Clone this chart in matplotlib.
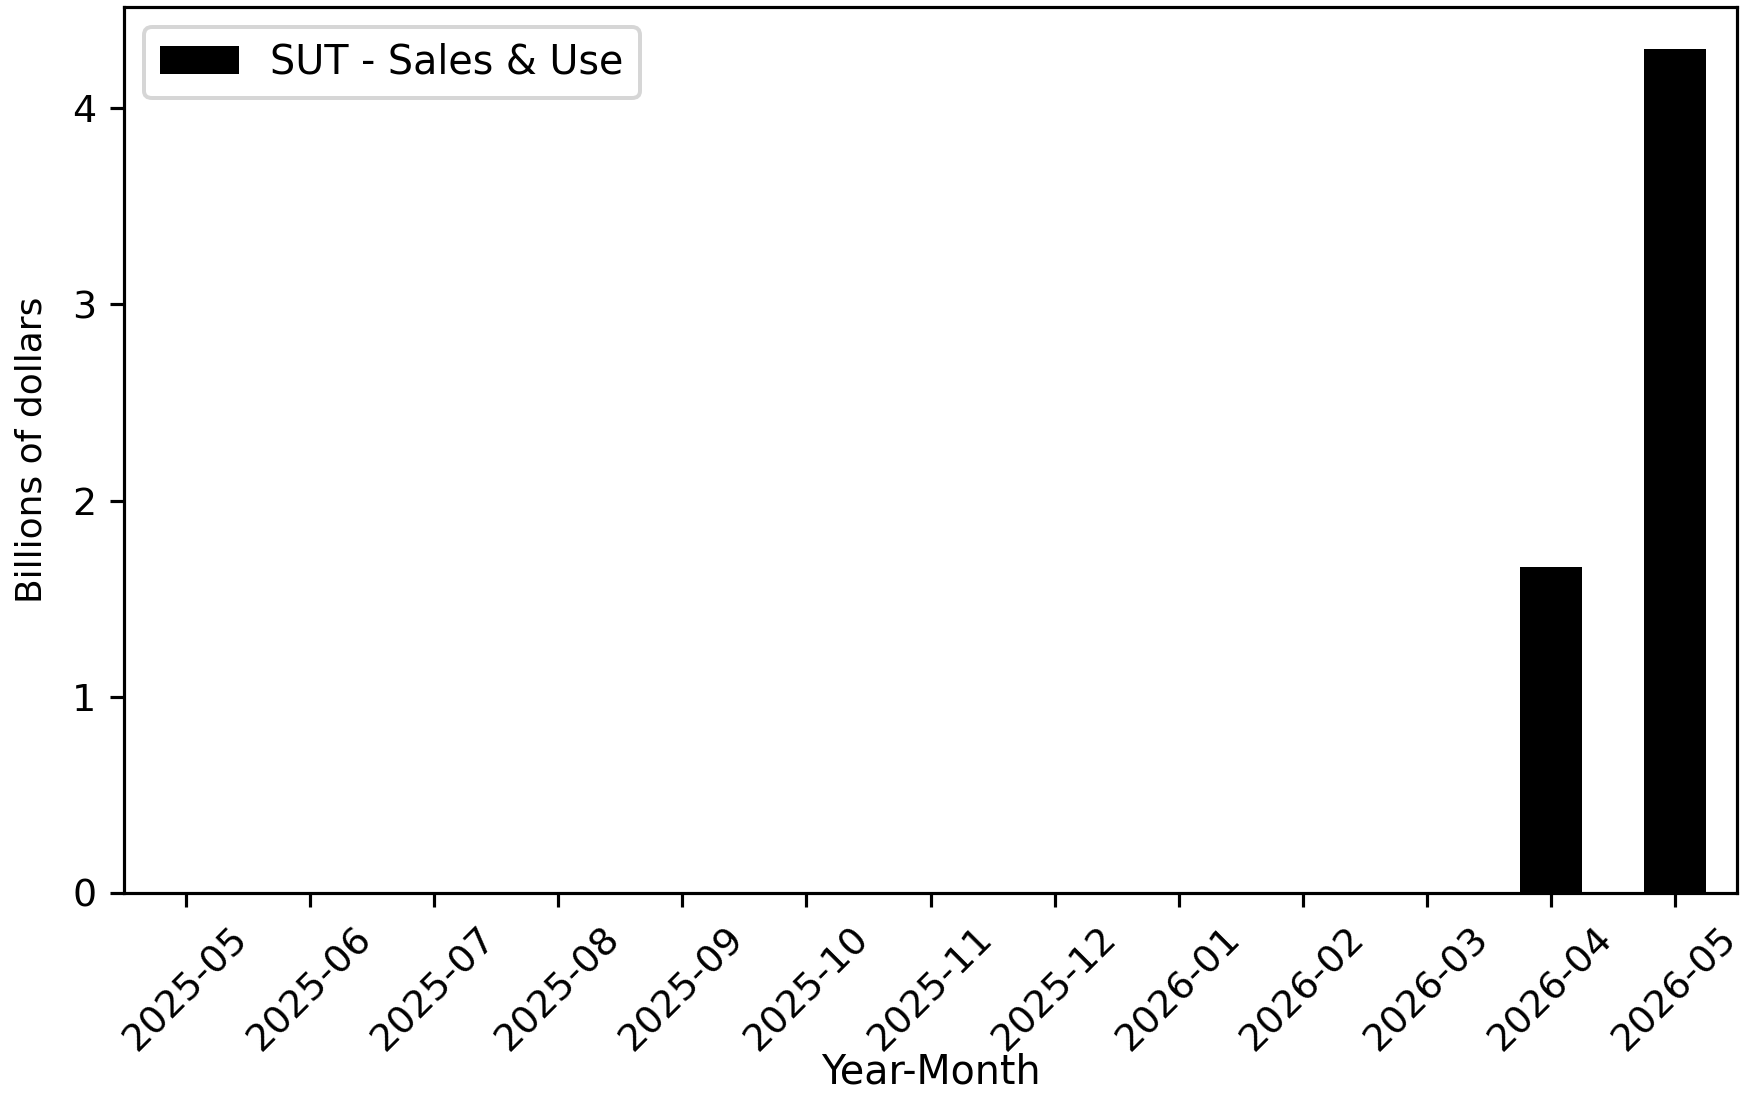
import matplotlib
matplotlib.use("Agg")
import matplotlib.pyplot as plt
import numpy as np

months = ["2025-05", "2025-06", "2025-07", "2025-08", "2025-09", "2025-10",
          "2025-11", "2025-12", "2026-01", "2026-02", "2026-03", "2026-04", "2026-05"]
sut_values = [0, 0, 0, 0, 0, 0, 0, 0, 0, 0, 0, 1.66, 4.30]

dpi = 285
fig = plt.figure(figsize=(1747 / dpi, 1097 / dpi), dpi=dpi)
ax = fig.add_axes([0.071, 0.186, 0.9233, 0.8076])

x = np.arange(len(months))
ax.bar(x, sut_values, width=0.5, color="black", label="SUT - Sales & Use")
ax.set_xlim(-0.5, len(months) - 0.5)
ax.set_xticks(x)
ax.set_xticklabels(months, rotation=45)
ax.tick_params(labelsize=9.6)
ax.set_xlabel("Year-Month", fontsize=10, labelpad=-1.5)
ax.set_ylabel("Billions of dollars", fontsize=9.1, labelpad=6)
ax.legend(loc="upper left", fontsize=10)

fig.savefig("out.png", dpi=dpi)
